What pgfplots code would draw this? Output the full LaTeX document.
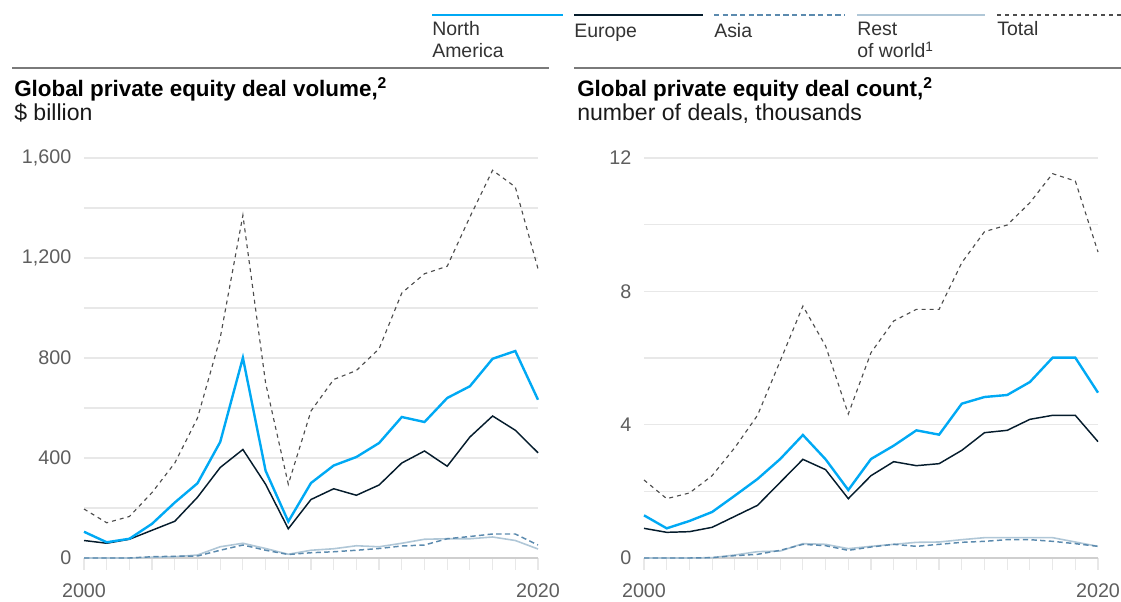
\documentclass[border=0pt]{standalone}
\usepackage{pgfplots}
\usepackage{pgfplotstable}
\pgfplotsset{compat=1.18}
\usepackage{fontspec}
\setmainfont{Liberation Sans}
\definecolor{nac}{HTML}{00A9F4}
\definecolor{euc}{HTML}{051C2C}
\definecolor{asc}{HTML}{5B8AAE}
\definecolor{rwc}{HTML}{B0C7D7}
\definecolor{totc}{HTML}{4D4D4D}
\definecolor{gridc}{HTML}{E8E8E8}
\definecolor{zeroc}{HTML}{CFCFCF}
\definecolor{tickc}{HTML}{5E5E5E}
\definecolor{rulec}{HTML}{7A7A7A}
\definecolor{txtc}{HTML}{333333}

\pgfplotstableread{
year na eu as rw tot
2000 105 70 0 0 196
2001 63 59 0 0 141
2002 77 75 0 0 166
2003 137 111 5 3 262
2004 222 147 7 5 380
2005 299 243 8 12 560
2006 464 362 31 45 880
2007 801 434 52 59 1371
2008 349 295 31 38 700
2009 146 117 14 15 295
2010 300 234 21 31 588
2011 370 277 25 37 714
2012 404 251 31 49 750
2013 460 292 38 45 837
2014 564 380 48 59 1060
2015 544 428 52 75 1137
2016 640 367 77 77 1167
2017 687 484 86 77 1364
2018 797 568 96 84 1551
2019 828 511 96 70 1484
2020 633 421 52 36 1157
}\voltable

\pgfplotstableread{
year na eu as rw tot
2000 1.28 0.89 0 0 2.34
2001 0.89 0.77 0 0 1.78
2002 1.11 0.79 0 0 1.95
2003 1.38 0.92 0.01 0.01 2.47
2004 1.87 1.25 0.07 0.09 3.31
2005 2.37 1.58 0.11 0.19 4.28
2006 2.97 2.27 0.23 0.21 5.91
2007 3.69 2.96 0.41 0.43 7.56
2008 2.96 2.65 0.37 0.41 6.36
2009 2.04 1.78 0.23 0.28 4.32
2010 2.97 2.47 0.33 0.35 6.16
2011 3.37 2.89 0.41 0.41 7.11
2012 3.83 2.77 0.35 0.47 7.46
2013 3.70 2.83 0.41 0.48 7.46
2014 4.63 3.23 0.47 0.55 8.86
2015 4.83 3.76 0.50 0.61 9.79
2016 4.89 3.83 0.55 0.61 9.99
2017 5.28 4.16 0.55 0.61 10.66
2018 6.01 4.28 0.50 0.61 11.53
2019 6.01 4.28 0.43 0.48 11.31
2020 4.96 3.49 0.35 0.35 9.18
}\cnttable

\tikzset{
  narow/.style={color=nac, line width=1.8pt},
  eurow/.style={color=euc, line width=1.1pt},
  asrow/.style={color=asc, line width=1.1pt, dash pattern=on 4pt off 2.5pt},
  rwrow/.style={color=rwc, line width=1.2pt},
  totrow/.style={color=totc, line width=0.85pt, dash pattern=on 3pt off 3pt},
}
\pgfplotsset{
  mystyle/.style={
    scale only axis, width=340.5pt, height=300pt,
    xmin=2000, xmax=2020, ymin=0,
    axis line style={draw=none},
    xtick={2000,2020}, xticklabels={2000,2020},
    minor xtick={2001,...,2019},
    xtick pos=bottom, ytick pos=left,
    tick align=outside,
    major tick length=9pt, minor tick length=9pt,
    x tick style={draw=gridc, line width=0.9pt},
    y tick style={draw=none},
    ymajorgrids, yminorgrids,
    major grid style={draw=gridc, line width=0.9pt},
    minor grid style={draw=gridc, line width=0.9pt},
    ticklabel style={font=\fontsize{14.8}{16}\selectfont, text=tickc},
    yticklabel style={xshift=3pt},
    xticklabel style={yshift=-7pt},
    clip=false,
  },
}

\begin{document}
\begin{tikzpicture}
\path[use as bounding box] (0pt,0pt) rectangle (840.75pt,-451.5pt);

\begin{axis}[mystyle, at={(63pt,-418.5pt)}, anchor=south west,
  ymax=1600, ytick={0,400,800,1200,1600}, yticklabels={0,400,800,{1,200},{1,600}},
  minor ytick={200,600,1000,1400}]
\draw[zeroc, line width=1.1pt] (axis cs:2000,0) -- (axis cs:2020,0);
\addplot[rwrow] table[x=year,y=rw]{\voltable};
\addplot[asrow] table[x=year,y=as]{\voltable};
\addplot[totrow] table[x=year,y=tot]{\voltable};
\addplot[eurow] table[x=year,y=eu]{\voltable};
\addplot[narow] table[x=year,y=na]{\voltable};
\end{axis}

\begin{axis}[mystyle, at={(483pt,-418.5pt)}, anchor=south west,
  ymax=12, ytick={0,4,8,12}, yticklabels={0,4,8,12},
  minor ytick={2,6,10}]
\draw[zeroc, line width=1.1pt] (axis cs:2000,0) -- (axis cs:2020,0);
\addplot[rwrow] table[x=year,y=rw]{\cnttable};
\addplot[asrow] table[x=year,y=as]{\cnttable};
\addplot[totrow] table[x=year,y=tot]{\cnttable};
\addplot[eurow] table[x=year,y=eu]{\cnttable};
\addplot[narow] table[x=year,y=na]{\cnttable};
\end{axis}

\begin{scope}[x=0.75pt,y=-0.75pt]
% title rules
\draw[rulec, line width=1.5pt] (12,68) -- (549,68);
\draw[rulec, line width=1.5pt] (574,68) -- (1121,68);
% titles
\node[anchor=base west, inner sep=0pt, text=black] at (14,97)
  {\fontsize{16.8}{20}\selectfont\bfseries Global private equity deal volume,\textsuperscript{2}};
\node[anchor=base west, inner sep=0pt, text=black!90] at (14,121)
  {\fontsize{17.3}{20}\selectfont \$ billion};
\node[anchor=base west, inner sep=0pt, text=black] at (577,97)
  {\fontsize{16.8}{20}\selectfont\bfseries Global private equity deal count,\textsuperscript{2}};
\node[anchor=base west, inner sep=0pt, text=black!90] at (577,121)
  {\fontsize{17.3}{20}\selectfont number of deals, thousands};
% legend
\draw[narow] (432,15) -- (563,15);
\draw[eurow] (574,15) -- (703,15);
\draw[asrow] (714,15) -- (845,15);
\draw[rwrow] (857,15) -- (985,15);
\draw[totrow] (997,15) -- (1121,15);
\begin{scope}[every node/.style={anchor=base west, inner sep=0pt, text=txtc, font=\fontsize{14.6}{16}\selectfont}]
\node at (432,36) {North};
\node at (432,58) {America};
\node at (574,38) {Europe};
\node at (714,38) {Asia};
\node at (857,36) {Rest};
\node at (857,58) {of world\textsuperscript{1}};
\node at (997,36) {Total};
\end{scope}
\end{scope}
\end{tikzpicture}
\end{document}
